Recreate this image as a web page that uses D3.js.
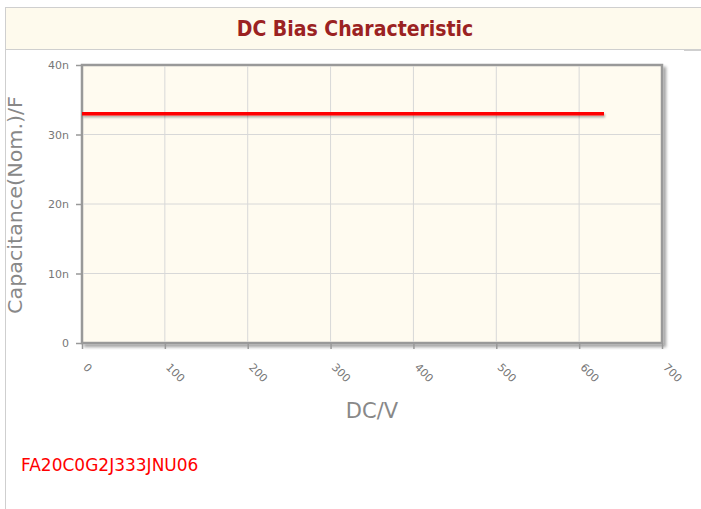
<!DOCTYPE html>
<html>
<head>
<meta charset="utf-8">
<script src="https://cdn.jsdelivr.net/npm/d3@7"></script>
<style>
  html, body { margin: 0; padding: 0; background: #fff; }
</style>
</head>
<body>
<div id="chart"></div>
<script>
// data
var chartTitle = "DC Bias Characteristic";
var partNumber = "FA20C0G2J333JNU06";
var xTitle = "DC/V";
var yTitle = "Capacitance(Nom.)/F";
var xTicks = [0, 100, 200, 300, 400, 500, 600, 700];
var yTicks = [0, 10e-9, 20e-9, 30e-9, 40e-9];
var yTickLabels = ["0", "10n", "20n", "30n", "40n"];
var dcVolts = [0, 630];
var capValues = [33e-9, 33e-9];

var W = 701, H = 509;
var plotL = 82, plotR = 662, plotT = 65, plotB = 343;

var svg = d3.select("#chart").append("svg").attr("width", W).attr("height", H);

// drop shadows (user space so a flat line still gets a region)
var defs = svg.append("defs");
function shadow(id, dx, dy, blur, op) {
  var f = defs.append("filter").attr("id", id).attr("filterUnits", "userSpaceOnUse")
    .attr("x", 0).attr("y", 0).attr("width", W).attr("height", H);
  f.append("feGaussianBlur").attr("in", "SourceAlpha").attr("stdDeviation", blur);
  f.append("feOffset").attr("dx", dx).attr("dy", dy).attr("result", "b");
  f.append("feComponentTransfer").append("feFuncA").attr("type", "linear").attr("slope", op);
  var m = f.append("feMerge");
  m.append("feMergeNode");
  m.append("feMergeNode").attr("in", "SourceGraphic");
}
shadow("boxShadow", 3, 3, 1.5, 0.35);
shadow("lineShadow", 1, 2, 1, 0.3);

// header box
svg.append("rect").attr("x", 5.5).attr("y", 7.5).attr("width", W).attr("height", 42)
  .attr("fill", "#fefaed").attr("stroke", "#cfcfcf").attr("stroke-width", 1);
svg.append("line").attr("x1", 5.5).attr("y1", 49).attr("x2", 5.5).attr("y2", H).attr("stroke", "#cfcfcf");
svg.append("line").attr("x1", 684).attr("y1", 50.5).attr("x2", W).attr("y2", 50.5).attr("stroke", "#cfcfcf");
svg.append("text").attr("x", 355).attr("y", 36).attr("text-anchor", "middle")
  .attr("font-family", "'DejaVu Sans Condensed', 'DejaVu Sans', sans-serif").attr("font-stretch", "condensed")
  .attr("font-weight", "bold").attr("font-size", 21).attr("fill", "#9b2222").text(chartTitle);

var x = d3.scaleLinear().domain([0, 700]).range([plotL, plotR]);
var y = d3.scaleLinear().domain([0, 40e-9]).range([plotB, plotT]);

// plot background
svg.append("rect").attr("x", plotL).attr("y", plotT).attr("width", plotR - plotL).attr("height", plotB - plotT)
  .attr("fill", "#fffbf0").attr("stroke", "#999").attr("stroke-width", 2.5).attr("filter", "url(#boxShadow)");

// grid
svg.selectAll(".vgrid").data(xTicks.slice(1, -1)).enter().append("line")
  .attr("x1", function(d){ return x(d); }).attr("x2", function(d){ return x(d); })
  .attr("y1", plotT + 1).attr("y2", plotB - 1).attr("stroke", "#d8d8d8").attr("stroke-width", 1);
svg.selectAll(".hgrid").data(yTicks.slice(1, -1)).enter().append("line")
  .attr("x1", plotL + 1).attr("x2", plotR - 1)
  .attr("y1", function(d){ return y(d); }).attr("y2", function(d){ return y(d); })
  .attr("stroke", "#d8d8d8").attr("stroke-width", 1);

// y axis
var yAxis = svg.append("g").attr("transform", "translate(" + plotL + ",0)")
  .call(d3.axisLeft(y).tickValues(yTicks).tickSize(6).tickPadding(7)
    .tickFormat(function(d, i){ return yTickLabels[i]; }));
yAxis.select(".domain").remove();
yAxis.selectAll(".tick line").attr("stroke", "#999").attr("stroke-width", 1.5);
yAxis.selectAll("text").attr("fill", "#777").attr("font-size", 11)
  .attr("font-family", "'DejaVu Sans', sans-serif");

// x axis
var xAxis = svg.append("g").attr("transform", "translate(0," + plotB + ")")
  .call(d3.axisBottom(x).tickValues(xTicks).tickSize(6).tickFormat(d3.format("d")));
xAxis.select(".domain").remove();
xAxis.selectAll(".tick line").attr("stroke", "#999").attr("stroke-width", 1.5);
xAxis.selectAll("text").attr("fill", "#777").attr("font-size", 11)
  .attr("font-family", "'DejaVu Sans', sans-serif")
  .attr("text-anchor", "start").attr("dy", null)
  .attr("transform", "translate(0,25) rotate(45)").attr("y", 0).attr("x", 0);

// series
var line = d3.line().x(function(d){ return x(d[0]); }).y(function(d){ return y(d[1]); });
svg.append("path").datum(d3.zip(dcVolts, capValues)).attr("d", line)
  .attr("fill", "none").attr("stroke", "#ff0000").attr("stroke-width", 3.5).attr("filter", "url(#lineShadow)");

// axis titles
svg.append("text").attr("x", 372).attr("y", 418).attr("text-anchor", "middle")
  .attr("font-family", "'DejaVu Sans', sans-serif")
  .attr("font-size", 21).attr("fill", "#888").text(xTitle);
svg.append("text").attr("transform", "translate(22,205) rotate(-90)").attr("text-anchor", "middle")
  .attr("font-family", "'DejaVu Sans', sans-serif")
  .attr("font-size", 20).attr("textLength", 218).attr("lengthAdjust", "spacingAndGlyphs")
  .attr("fill", "#888").text(yTitle);

// part number
svg.append("text").attr("x", 21).attr("y", 471)
  .attr("font-family", "'DejaVu Sans', sans-serif").attr("font-size", 17).attr("fill", "#ff0000").text(partNumber);
</script>
</body>
</html>
